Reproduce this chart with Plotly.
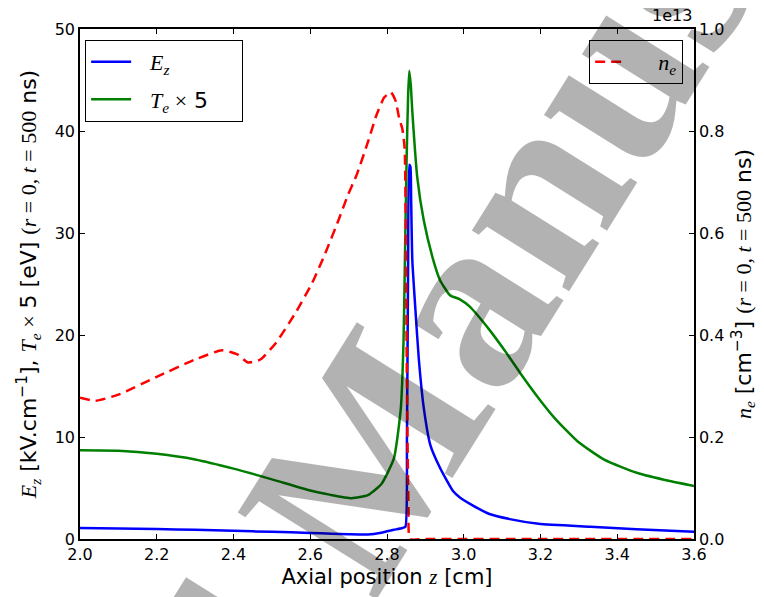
import plotly.graph_objects as go

# values
z_ez = [2.0, 2.1, 2.2, 2.3, 2.4, 2.5, 2.6, 2.656, 2.7, 2.75, 2.785, 2.818, 2.84, 2.848,
        2.852, 2.855, 2.858, 2.861, 2.863, 2.866, 2.874, 2.883, 2.896, 2.913, 2.938,
        2.972, 2.99, 3.023, 3.067, 3.12, 3.195, 3.33, 3.45, 3.6]
ez = [1.07, 1.04, 0.98, 0.9, 0.8, 0.7, 0.6, 0.52, 0.47, 0.45, 0.62, 0.9, 1.08, 1.2,
      10.0, 27.0, 36.7, 36.5, 33.0, 27.3, 22.5, 17.6, 12.8, 9.2, 6.98,
      4.7, 4.07, 3.3, 2.45, 1.95, 1.49, 1.2, 0.95, 0.7]

z_te = [2.0, 2.1, 2.2, 2.3, 2.4, 2.5, 2.6, 2.65, 2.708, 2.75, 2.785, 2.818, 2.836,
        2.843, 2.846, 2.851, 2.855, 2.858, 2.862, 2.866, 2.879, 2.896, 2.921, 2.938,
        2.964, 2.99, 3.015, 3.067, 3.11, 3.152, 3.195, 3.238, 3.297, 3.366, 3.451,
        3.537, 3.6]
te5 = [8.7, 8.65, 8.35, 7.8, 6.9, 5.85, 4.75, 4.35, 4.0, 4.3, 5.36, 7.9, 12.8,
       19.3, 25.7, 37.0, 43.5, 45.9, 44.5, 41.9, 35.4, 31.2, 27.3, 25.4,
       23.9, 23.5, 22.8, 20.5, 18.3, 16.0, 13.8, 11.8, 9.56, 7.78, 6.49,
       5.68, 5.2]

# n_e in units of 1e13 cm^-3
z_ne = [2.0, 2.04, 2.1, 2.2, 2.3, 2.37, 2.41, 2.438, 2.47, 2.511, 2.562, 2.605,
        2.639, 2.673, 2.699, 2.721, 2.751, 2.772, 2.793, 2.81, 2.822, 2.832, 2.84,
        2.846, 2.849, 2.852, 2.856, 2.86, 2.9, 3.2, 3.6]
ne = [0.277, 0.271, 0.283, 0.318, 0.352, 0.37, 0.362, 0.346, 0.352, 0.385, 0.444,
      0.502, 0.56, 0.624, 0.676, 0.714, 0.78, 0.83, 0.866, 0.876, 0.86, 0.824, 0.804,
      0.766, 0.6, 0.3, 0.06, 0.0, 0.0, 0.0, 0.0]

x_ticks = [2.0, 2.2, 2.4, 2.6, 2.8, 3.0, 3.2, 3.4, 3.6]
y_ticks = [0, 10, 20, 30, 40, 50]
y2_ticks = [0.0, 0.2, 0.4, 0.6, 0.8, 1.0]

SERIF = 'style="font-family:Liberation Serif"'
PAD = "&nbsp;" * 4  # widens the legend boxes like the reference

fig = go.Figure()
fig.add_scatter(x=z_ez, y=ez, mode="lines",
                line=dict(color="#0000ff", width=2.5, shape="spline", smoothing=0.5),
                legendgroup="ez",
                name=f"&nbsp;&nbsp;<span {SERIF}><i>E</i><sub><i>z</i></sub></span>")
fig.add_scatter(x=z_te, y=te5, mode="lines",
                line=dict(color="#008000", width=2.5, shape="spline", smoothing=0.5),
                legendgroup="te",
                name=f"&nbsp;&nbsp;<span {SERIF}><i>T</i><sub><i>e</i></sub> ×</span> 5{PAD}")
fig.add_scatter(x=z_ne, y=ne, mode="lines", yaxis="y2", legend="legend2",
                line=dict(color="#ff0000", width=2.5, dash="10px,6px",
                          shape="spline", smoothing=0.5),
                name=f"{PAD}<span {SERIF}><i>n</i><sub><i>e</i></sub></span>")

# the page adds a body margin, so the figure is drawn a little smaller
fig.update_layout(
    width=756, height=589,
    margin=dict(l=72, r=60, t=18, b=55),
    paper_bgcolor="white", plot_bgcolor="white",
    font=dict(family="DejaVu Sans", size=16, color="black"),
    xaxis=dict(range=[2.0, 3.6], tickvals=x_ticks, tickformat=".1f",
               ticks="inside", ticklen=5, tickcolor="black",
               showline=True, linecolor="black", linewidth=1.5, mirror="ticks",
               showgrid=False, zeroline=False,
               title=dict(text=f"Axial position <span {SERIF}><i>z</i></span> [cm]",
                          font=dict(size=21), standoff=6)),
    yaxis=dict(range=[0, 50], tickvals=y_ticks, ticks="inside", ticklen=5,
               tickcolor="black", showline=True, linecolor="black", linewidth=1.5,
               showgrid=False, zeroline=False,
               title=dict(text=f"<span {SERIF}><i>E</i><sub><i>z</i></sub></span> [kV.cm<sup>−1</sup>], "
                               f"<span {SERIF}><i>T</i><sub><i>e</i></sub> ×</span> 5 [eV] "
                               f"<span {SERIF}>(<i>r</i> = 0, <i>t</i> = 500</span> ns)",
                          font=dict(size=22), standoff=12)),
    yaxis2=dict(range=[0, 1.0], tickvals=y2_ticks, tickformat=".1f", overlaying="y",
                side="right", ticks="inside", ticklen=5, tickcolor="black",
                showline=True, linecolor="black", linewidth=1.5,
                showgrid=False, zeroline=False,
                title=dict(text=f"<span {SERIF}><i>n</i><sub><i>e</i></sub></span> [cm<sup>−3</sup>] "
                                f"<span {SERIF}>(<i>r</i> = 0, <i>t</i> = 500</span> ns)",
                           font=dict(size=22), standoff=12)),
    legend=dict(x=0.008, y=0.979, xanchor="left", yanchor="top",
                bordercolor="black", borderwidth=1.2, bgcolor="white",
                font=dict(size=22), tracegroupgap=6, itemwidth=40),
    legend2=dict(x=0.982, y=0.979, xanchor="right", yanchor="top",
                 bordercolor="black", borderwidth=1.2, bgcolor="white",
                 font=dict(size=22)),
)

fig.add_annotation(text="1e13", xref="paper", yref="paper", x=1, y=1, yshift=2,
                   xanchor="right", yanchor="bottom", showarrow=False,
                   font=dict(size=16))

# watermark
fig.add_annotation(text="<b>Accepted Manuscript</b>", xref="paper", yref="paper",
                   x=0.45, y=0.13, xanchor="center", yanchor="middle",
                   textangle=-58, showarrow=False,
                   font=dict(family="Liberation Serif", size=250,
                             color="rgba(0,0,0,0.3)"))

fig.write_html("out.html")
